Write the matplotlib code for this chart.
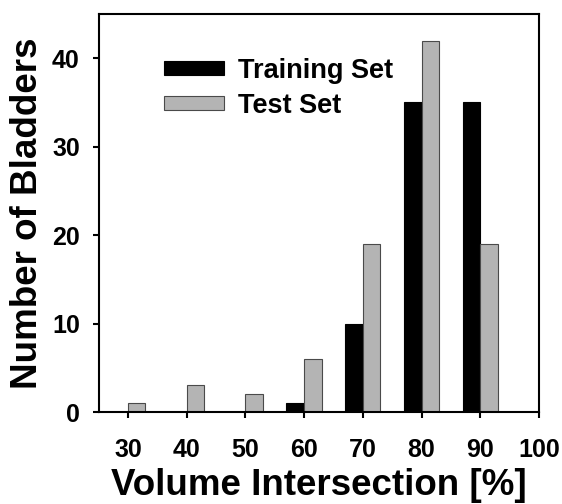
import matplotlib
matplotlib.use("Agg")
import matplotlib.pyplot as plt
import numpy as np

categories = [30, 40, 50, 60, 70, 80, 90]
training = [0, 0, 0, 1, 10, 35, 35]
test = [1, 3, 2, 6, 19, 42, 19]
xticks = [30, 40, 50, 60, 70, 80, 90, 100]
yticks = [0, 10, 20, 30, 40]

plt.rcParams['font.family'] = ['Liberation Sans', 'DejaVu Sans']
plt.rcParams['font.weight'] = 'bold'

fig = plt.figure(figsize=(5.62, 5.04), dpi=100)
ax = fig.add_axes([98.5/562, 1-412/504, (539-98.5)/562, (412-14)/504])

x = np.array(categories, dtype=float)
w = 3.0
ax.bar(x - w, training, width=w, align='edge', color='black', edgecolor='black', linewidth=0.8, label='Training Set')
ax.bar(x, test, width=w, align='edge', color='#b4b4b4', edgecolor='#4a4a4a', linewidth=0.8, label='Test Set')

ax.set_xlim(25, 100)
ax.set_ylim(0, 45)
ax.set_xticks(xticks)
ax.set_yticks(yticks)
ax.tick_params(axis='x', direction='out', length=4.5, width=1.5, pad=14.5, labelsize=18, top=False)
ax.tick_params(axis='y', direction='out', length=4.5, width=1.5, pad=9, labelsize=18, right=False)
for lab in ax.get_xticklabels() + ax.get_yticklabels():
    lab.set_fontweight('bold')
for s in ax.spines.values():
    s.set_linewidth(1.5)

ax.set_xlabel('Volume Intersection [%]', fontsize=26.5, fontweight='bold', labelpad=4)
ax.set_ylabel('Number of Bladders', fontsize=26.5, fontweight='bold', labelpad=5)

leg = ax.legend(loc='upper left', bbox_to_anchor=(0.1487, 0.89), frameon=False,
                fontsize=19.5, handlelength=2.2, handleheight=0.38, handletextpad=0.55,
                labelspacing=0.33, borderpad=0, borderaxespad=0)
for t in leg.get_texts():
    t.set_fontweight('bold')

fig.savefig('out.png', dpi=100)
